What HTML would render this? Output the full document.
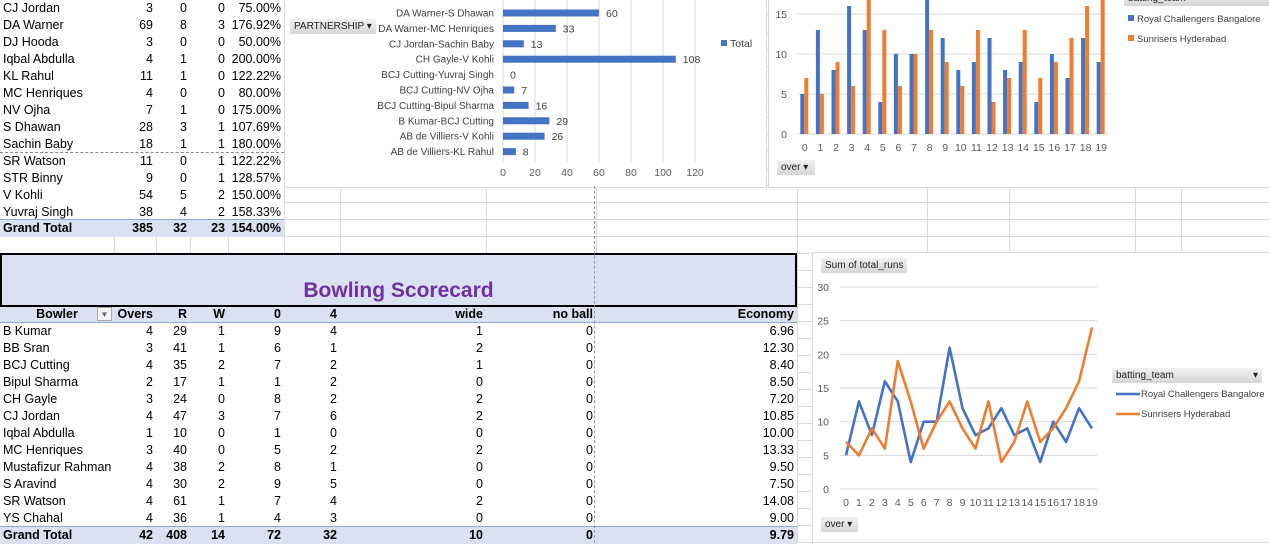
<!DOCTYPE html>
<html><head><meta charset="utf-8">
<style>
body{margin:0;width:1269px;height:543px;overflow:hidden;position:relative;background:#fff;font-family:"Liberation Sans",sans-serif;}
.grid{position:absolute;left:0;top:0;width:1269px;height:543px;z-index:0;}
.cell{position:absolute;height:17px;line-height:17px;font-size:12.5px;color:#000;white-space:nowrap;z-index:2;}
.r{text-align:right;}
.panel{position:absolute;background:#fff;border:1px solid #d9d9d9;z-index:3;}
.btn{position:absolute;background:linear-gradient(#f2f2f2,#d6d6d6);font-size:10px;line-height:15px;color:#222;padding:0 4px;white-space:nowrap;z-index:4;}
svg text{font-family:"Liberation Sans",sans-serif;}
</style></head><body>
<svg class="grid" width="1269" height="543" id="gridsvg"></svg>

<div id="battab"></div>

<div class="panel" style="left:284px;top:-2px;width:481px;height:188px">
<svg id="hbar" width="481" height="188"></svg>
</div>
<div class="btn" style="left:290px;top:19px;width:78px">PARTNERSHIP ▾</div>

<div class="panel" style="left:768px;top:-2px;width:502px;height:188px">
<svg id="cbar" width="502" height="188"></svg>
</div>
<div class="btn" style="left:1124px;top:-9px;width:138px;height:15px">batting_team</div>
<div class="btn" style="left:777px;top:160px;width:30px">over ▾</div>

<div style="position:absolute;left:0;top:253px;width:793px;height:50px;border:2px solid #000;background:#d9e1f2;z-index:2">
<div style="position:absolute;left:0;right:0;top:24px;text-align:center;font-size:21px;font-weight:bold;color:#7030a0">Bowling Scorecard</div>
</div>
<div id="bowltab"></div>
<div style="position:absolute;left:594px;top:186px;height:357px;border-left:1px dashed #999;z-index:5"></div>

<div class="panel" style="left:812px;top:252px;width:456px;height:289px">
<svg id="line" width="456" height="289"></svg>
</div>
<div class="btn" style="left:821px;top:258px">Sum of total_runs</div>
<div class="btn" style="left:1112px;top:368px;width:142px">batting_team<span style="float:right">▾</span></div>
<div class="btn" style="left:821px;top:517px;width:29px">over ▾</div>

<script>
const NS='http://www.w3.org/2000/svg';
function mk(p,tag,a,txt){const e=document.createElementNS(NS,tag);for(const k in a)e.setAttribute(k,a[k]);if(txt!==undefined)e.textContent=txt;p.appendChild(e);return e;}

// ---- sheet grid ----
const g=document.getElementById('gridsvg');
const colLines=[114,156,190,228,284,340,486,596,797,927,1009,1135,1181];
colLines.forEach(x=>{mk(g,'line',{x1:x+.5,y1:0,x2:x+.5,y2:543,stroke:'#dadada'});});
for(let y=15;y<543;y+=17){mk(g,'line',{x1:0,y1:y+.5,x2:1269,y2:y+.5,stroke:'#dadada'});}

// ---- batting table ----
const batNames=["CJ Jordan","DA Warner","DJ Hooda","Iqbal Abdulla","KL Rahul","MC Henriques","NV Ojha","S Dhawan","Sachin Baby","SR Watson","STR Binny","V Kohli","Yuvraj Singh"];
const batRuns=[3,69,3,4,11,4,7,28,18,11,9,54,38];
const batFours=[0,8,0,1,1,0,1,3,1,0,0,5,4];
const batSix=[0,3,0,0,0,0,0,1,1,1,1,2,2];
const batSR=["75.00%","176.92%","50.00%","200.00%","122.22%","80.00%","175.00%","107.69%","180.00%","122.22%","128.57%","150.00%","158.33%"];
const bt=document.getElementById('battab');
const bcols=[[0,114],[114,156],[156,190],[190,228],[228,284]];
function row(parent,top,vals,cols,bold,bg,name){
  if(bg){const d=document.createElement('div');d.style.cssText=`position:absolute;left:0;top:${top}px;width:${cols[cols.length-1][1]}px;height:17px;background:${bg};z-index:1`;parent.appendChild(d);}
  vals.forEach((v,i)=>{const d=document.createElement('div');d.className='cell'+(i?' r':'');
    d.style.left=(cols[i][0]+(i?0:3))+'px';d.style.width=(cols[i][1]-cols[i][0]-3)+'px';d.style.top=top+'px';
    if(bold)d.style.fontWeight='bold';d.textContent=v;
    
    
    parent.appendChild(d);});
}
{const d=document.createElement('div');d.style.cssText='position:absolute;left:0;top:-2px;width:284px;height:222px;background:#fff;z-index:1';bt.appendChild(d);}
batNames.forEach((n,i)=>row(bt,i*17,[n,batRuns[i],batFours[i],batSix[i],batSR[i]],bcols,false,null,'batting-row'));
row(bt,220,["Grand Total",385,32,23,"154.00%"],bcols,true,'#d9e1f2','batting-total');
{const d=document.createElement('div');d.style.cssText='position:absolute;left:0;top:152px;width:284px;border-top:1px dashed #888;z-index:2';bt.appendChild(d);
 const e=document.createElement('div');e.style.cssText='position:absolute;left:0;top:219px;width:284px;border-top:1px solid #8ea9db;z-index:2';bt.appendChild(e);}

// ---- bowling table ----
const bowlers=["B Kumar","BB Sran","BCJ Cutting","Bipul Sharma","CH Gayle","CJ Jordan","Iqbal Abdulla","MC Henriques","Mustafizur Rahman","S Aravind","SR Watson","YS Chahal"];
const bOvers=[4,3,4,2,3,4,1,3,4,4,4,4];
const bRuns=[29,41,35,17,24,47,10,40,38,30,61,36];
const bWk=[1,1,2,1,0,3,0,0,2,2,1,1];
const bDots=[9,6,7,1,8,7,1,5,8,9,7,4];
const bFours=[4,1,2,2,2,6,0,2,1,5,4,3];
const bWide=[1,2,1,0,2,2,0,2,0,0,2,0];
const bNo=[0,0,0,0,0,0,0,0,0,0,0,0];
const bEco=["6.96","12.30","8.40","8.50","7.20","10.85","10.00","13.33","9.50","7.50","14.08","9.00"];
const wt=document.getElementById('bowltab');
const wcols=[[0,114],[114,156],[156,190],[190,228],[228,284],[284,340],[340,486],[486,596],[596,797]];
{const d=document.createElement('div');d.style.cssText='position:absolute;left:0;top:306px;width:797px;height:17px;background:#d9e1f2;border-bottom:1px solid #8ea9db;box-sizing:border-box;z-index:1';wt.appendChild(d);}
{const d=document.createElement('div');d.style.cssText='position:absolute;left:0;top:323px;width:797px;height:204px;background:#fff;z-index:1';wt.appendChild(d);}
const hdr=["Bowler","Overs","R","W","0","4","wide","no ball","Economy"];
hdr.forEach((h,i)=>{const d=document.createElement('div');d.className='cell r';d.style.cssText=`left:${wcols[i][0]}px;width:${wcols[i][1]-wcols[i][0]-3}px;top:306px;font-weight:bold`;if(i==0){d.style.textAlign='center';d.style.width='80px';d.style.left='17px';}d.textContent=h;


wt.appendChild(d);});
{const f=document.createElement('div');f.style.cssText='position:absolute;left:97px;top:307px;width:15px;height:14px;border:1px solid #aaa;background:#f3f3f3;font-size:8px;line-height:14px;text-align:center;color:#666;box-sizing:border-box;z-index:3';f.textContent='▼';


wt.appendChild(f);}
bowlers.forEach((n,i)=>row(wt,323+i*17,[n,bOvers[i],bRuns[i],bWk[i],bDots[i],bFours[i],bWide[i],bNo[i],bEco[i]],wcols,false,null,'bowling-row'));
row(wt,527,["Grand Total",42,408,14,72,32,10,0,"9.79"],wcols,true,'#d9e1f2','bowling-total');
{const e=document.createElement('div');e.style.cssText='position:absolute;left:0;top:526px;width:797px;border-top:1px solid #8ea9db;z-index:2';wt.appendChild(e);}

// ---- partnership horizontal bar chart ----
const pNames=["DA Warner-S Dhawan","DA Warner-MC Henriques","CJ Jordan-Sachin Baby","CH Gayle-V Kohli","BCJ Cutting-Yuvraj Singh","BCJ Cutting-NV Ojha","BCJ Cutting-Bipul Sharma","B Kumar-BCJ Cutting","AB de Villiers-V Kohli","AB de Villiers-KL Rahul"];
const pRuns=[60,33,13,108,0,7,16,29,26,8];
const pTicks=[0,20,40,60,80,100,120];
{
const s=document.getElementById('hbar');const ox=285,oy=-2;
const xs=v=>503+v*1.6-ox; const ys=i=>12+i*15.4-oy;
pTicks.forEach(t=>{const l=mk(s,'line',{x1:xs(t),y1:0,x2:xs(t),y2:162-oy,stroke:'#d9d9d9'});
const tx=mk(s,'text',{x:xs(t),y:175-oy,'font-size':10.5,fill:'#595959','text-anchor':'middle'},t);});
pNames.forEach((n,i)=>{
 const r=mk(s,'rect',{x:xs(0),y:ys(i)-3.5,width:xs(pRuns[i])-xs(0),height:7,fill:'#4472c4'});
 
 
 const l=mk(s,'text',{x:494-ox,y:ys(i)+3.5,'font-size':10,fill:'#404040','text-anchor':'end'},n);
 
 const v=mk(s,'text',{x:xs(pRuns[i])+7,y:ys(i)+4,'font-size':10.5,fill:'#404040'},pRuns[i]);
 
});
const lg=mk(s,'rect',{x:721-ox,y:39-oy,width:6,height:6,fill:'#4472c4'});
const lt=mk(s,'text',{x:730-ox,y:46-oy,'font-size':10.5,fill:'#404040'},'Total');
}

// ---- runs per over data ----
const overs=[0,1,2,3,4,5,6,7,8,9,10,11,12,13,14,15,16,17,18,19];
const rcb=[5,13,8,16,13,4,10,10,21,12,8,9,12,8,9,4,10,7,12,9];
const srh=[7,5,9,6,19,13,6,10,13,9,6,13,4,7,13,7,9,12,16,24];

// ---- column chart ----
{
const s=document.getElementById('cbar');const ox=769,oy=-2;
const cw=(1109-797)/20;
const ys=v=>133-v*8-oy; const xc=i=>797+cw*(i+.5)-ox;
[0,5,10,15].forEach(t=>{const l=mk(s,'line',{x1:797-ox,y1:ys(t),x2:1109-ox,y2:ys(t),stroke:'#d9d9d9'});
const tx=mk(s,'text',{x:787-ox,y:ys(t)+4,'font-size':10.5,fill:'#595959','text-anchor':'end'},t);});
overs.forEach((o,i)=>{
 const h1=Math.min(rcb[i]*8,ys(0));const h2=Math.min(srh[i]*8,ys(0));
 const a=mk(s,'rect',{x:xc(i)-4.5,y:ys(0)-h1,width:4,height:h1,fill:'#4472c4'});
 const b=mk(s,'rect',{x:xc(i)-0.5,y:ys(0)-h2,width:4,height:h2,fill:'#ed7d31'});
 const t=mk(s,'text',{x:xc(i),y:150-oy,'font-size':10.5,fill:'#595959','text-anchor':'middle'},o);
});
const l1=mk(s,'rect',{x:1128-ox,y:14-oy,width:6,height:6,fill:'#4472c4'});
const t1=mk(s,'text',{x:1137-ox,y:21-oy,'font-size':9.5,fill:'#404040'},'Royal Challengers Bangalore');
const l2=mk(s,'rect',{x:1128-ox,y:34-oy,width:6,height:6,fill:'#ed7d31'});
const t2=mk(s,'text',{x:1137-ox,y:41-oy,'font-size':9.5,fill:'#404040'},'Sunrisers Hyderabad');
}

// ---- line chart ----
{
const s=document.getElementById('line');const ox=813,oy=253;
const xs=i=>846+i*(1092-846)/19-ox; const ys=v=>489-v*(489-287)/30-oy;
[0,5,10,15,20,25,30].forEach(t=>{const l=mk(s,'line',{x1:840-ox,y1:ys(t),x2:1097-ox,y2:ys(t),stroke:'#d9d9d9'});
const tx=mk(s,'text',{x:829-ox,y:ys(t)+4,'font-size':10.5,fill:'#595959','text-anchor':'end'},t);});
overs.forEach((o,i)=>{const t=mk(s,'text',{x:xs(i),y:506-oy,'font-size':10.5,fill:'#595959','text-anchor':'middle'},o);});
const p1=mk(s,'polyline',{points:rcb.map((v,i)=>xs(i)+','+ys(v)).join(' '),fill:'none',stroke:'#4472c4','stroke-width':2.6,'stroke-linejoin':'round'});

const p2=mk(s,'polyline',{points:srh.map((v,i)=>xs(i)+','+ys(v)).join(' '),fill:'none',stroke:'#ed7d31','stroke-width':2.6,'stroke-linejoin':'round'});

const a=mk(s,'line',{x1:1116-ox,y1:394-oy,x2:1140-ox,y2:394-oy,stroke:'#4472c4','stroke-width':2.6});
const at=mk(s,'text',{x:1141-ox,y:397-oy,'font-size':9.5,fill:'#404040'},'Royal Challengers Bangalore');
const b=mk(s,'line',{x1:1116-ox,y1:414-oy,x2:1140-ox,y2:414-oy,stroke:'#ed7d31','stroke-width':2.6});
const bt2=mk(s,'text',{x:1141-ox,y:417-oy,'font-size':9.5,fill:'#404040'},'Sunrisers Hyderabad');
}
</script>
</body></html>
